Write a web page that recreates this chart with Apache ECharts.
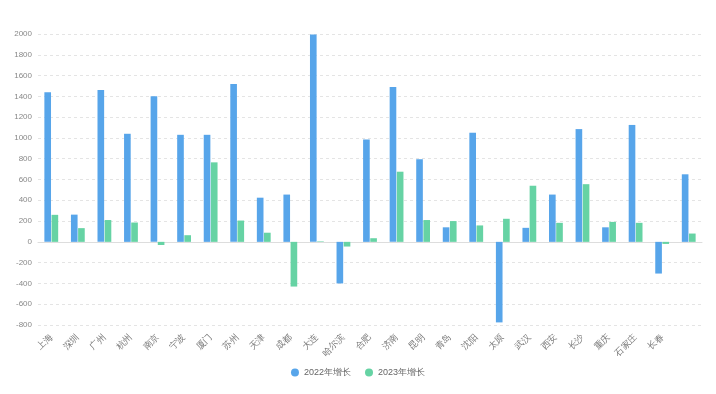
<!DOCTYPE html>
<html>
<head>
<meta charset="utf-8">
<script src="https://cdn.jsdelivr.net/npm/echarts@6/dist/echarts.min.js"></script>
<style>
html,body{margin:0;padding:0;background:#fff;}
#c{width:716px;height:394px;}
</style>
</head>
<body>
<div id="c"></div>
<script>
const categories = ['上海','深圳','广州','杭州','南京','宁波','厦门','苏州','天津','成都','大连','哈尔滨','合肥','济南','昆明','青岛','沈阳','太原','武汉','西安','长沙','重庆','石家庄','长春',''];
const growth2022 = [1440,262,1460,1040,1400,1030,1030,1520,425,455,1995,-400,985,1490,795,140,1050,-775,135,455,1085,140,1125,-305,650];
const growth2023 = [260,132,210,186,-30,64,765,205,88,-430,5,-45,35,675,210,200,158,222,540,183,555,192,183,-20,80];
const seriesNames = ['2022年增长','2023年增长'];
const yTicks = {min:-800, max:2000, interval:200};

const chart = echarts.init(document.getElementById('c'), null, {renderer:'canvas'});
chart.setOption({
  animation:false,
  backgroundColor:'#fff',
  color:['#57a5ea','#66d3a4'],
  legend:{
    bottom:12, left:'center',
    icon:'circle', itemWidth:8, itemHeight:8, itemGap:14,
    textStyle:{color:'#666', fontSize:9},
    data:seriesNames
  },
  grid:{left:38, right:14, top:34, bottom:69, containLabel:false},
  xAxis:{
    type:'category', data:categories,
    offset:5,
    axisLine:{lineStyle:{color:'#ddd'}},
    axisTick:{show:false},
    axisLabel:{rotate:45, interval:0, color:'#777', fontSize:9, margin:6}
  },
  yAxis:{
    type:'value', min:yTicks.min, max:yTicks.max, interval:yTicks.interval,
    axisLine:{show:false}, axisTick:{show:false},
    axisLabel:{color:'#888', fontSize:8, margin:6, formatter:function(v){return String(v);}},
    splitLine:{lineStyle:{color:'#e4e4e4', type:[3,3]}}
  },
  series:[
    {name:seriesNames[0], type:'bar', data:growth2022, barGap:'8%', barCategoryGap:'48%'},
    {name:seriesNames[1], type:'bar', data:growth2023, barGap:'8%', barCategoryGap:'48%'}
  ]
});
</script>
</body>
</html>
